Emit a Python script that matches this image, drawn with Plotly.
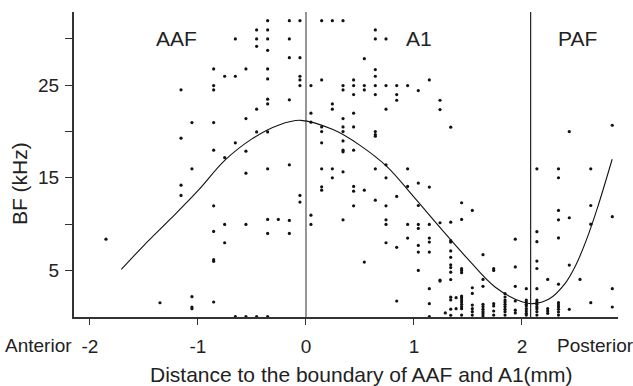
import plotly.graph_objects as go

# Recording sites: x position (mm from the AAF/A1 boundary) of each column and the BF values (kHz) in it
col_x = [-1.852, -1.352, -1.157, -1.056, -0.855, -0.753, -0.654, -0.556, -0.457, -0.355,
         -0.256, -0.154, -0.056, 0.046, 0.145, 0.244, 0.343, 0.441, 0.540, 0.642,
         0.741, 0.840, 0.941, 1.040, 1.142, 1.241, 1.290, 1.340, 1.390, 1.441,
         1.540, 1.639, 1.738, 1.843, 1.938, 2.040, 2.138, 2.238, 2.338, 2.438,
         2.537, 2.637, 2.836]
col_y = [
    [8.37],
    [1.5],
    [24.5, 19.27, 14.2, 13.09],
    [20.96, 15.96, 2.16, 1.04, 0.86],
    [26.75, 24.95, 24.48, 20.96, 17.98, 11.97, 9.2, 6.15, 5.97, 1.58],
    [25.96, 17.18, 9.96, 7.98],
    [29.99, 25.96, 18.77, 0],
    [26.75, 21.39, 17.87, 15.49, 9.96, 0],
    [30.96, 29.99, 29.19, 22.40, 19.95, 0],
    [31.96, 30.96, 29.99, 28.76, 26.75, 25.67, 23.48, 22.97, 19.95, 15.96, 10.50, 8.99, 0],
    [10.50],
    [31.96, 29.99, 27.97, 23.41, 16.39, 10.39, 8.99],
    [31.96, 27.97, 25.96, 25.56, 24.95, 13.09, 12.37],
    [24.95, 21.97, 21.0, 10.96, 9.96],
    [31.96, 25.56, 20.49, 19.99, 18.77, 15.96, 14.02, 13.66],
    [31.96, 22.97, 22.40, 15.96, 14.99],
    [31.96, 24.95, 24.48, 21.39, 20.49, 19.99, 18.98, 17.98, 17.8, 15.64, 10.46],
    [25.56, 24.95, 23.98, 21.97, 20.49, 17.98, 14.06, 13.55, 11.97],
    [27.86, 24.95, 24.48, 13.66, 5.89],
    [30.96, 29.99, 26.68, 25.96, 24.95, 23.98, 19.99, 19.67, 19.49, 15.96, 12.58],
    [29.99, 24.95, 22.40, 16.39, 14.99, 11.97, 10.46, 9.96, 7.98],
    [24.95, 23.98, 23.37, 12.98, 7.48, 1.69],
    [24.95, 15.96, 14.06, 9.96, 8.48],
    [24.41, 14.42, 12.0, 9.96, 9.53, 7.69, 6.97, 4.99],
    [25.56, 13.99, 9.96, 8.48, 8.05, 6.97, 3.02, 1.4, 0],
    [23.37, 22.36, 10.14, 3.95, 3.84],
    [0.4],
    [20.46, 10.2, 8.2, 8.05, 7.1, 6.4, 5.6, 5.3, 4.8, 4.0, 2.1, 1.8, 0.8, 0.15],
    [2.05, 0.86],
    [12.3, 10.5, 5.18, 4.99, 4.75, 2.22, 2.05, 1.79, 1.58, 1.33, 1.08, 0.86, 0.17],
    [11.47, 3.12, 2.51, 1.25, 0.86, 0.54, 0.17],
    [6.69, 4.02, 3.27, 1.33, 1.08, 0.79, 0.54, 0.32, 0.06],
    [5.18, 4.99, 1.40, 1.15, 0.61, 0.17],
    [2.48, 2.12, 1.79, 1.58, 1.33, 1.08, 0.79, 0.54, 0.17],
    [8.37, 5.37, 3.27, 1.69, 0.7, 0.4],
    [3.02, 1.79, 1.58, 1.33, 1.15, 0.86, 0.61, 0.36, 0.17],
    [15.96, 9.17, 8.09, 6.0, 5.2, 3.02, 1.79, 1.58, 1.33, 1.08, 0.86, 0.54, 0.17],
    [4.02, 0.86, 0.61, 0.36],
    [15.96, 15.0, 11.47, 10.46, 8.5, 3.5, 1.51, 1.25, 1.04, 0.79, 0.5, 0.17],
    [19.99, 10.68, 5.57, 0.79],
    [4.02],
    [15.96, 12.0, 9.98, 1.51],
    [20.67, 10.79, 3.02, 1.04],
]

# Fitted BF trend along the axis
fit_x = [-1.71, -1.5, -1.25, -1.0, -0.75, -0.5, -0.25, -0.05, 0.25, 0.5, 0.75, 1.0,
         1.25, 1.5, 1.75, 2.0, 2.1, 2.25, 2.4, 2.5, 2.6, 2.7, 2.835]
fit_y = [5.1, 7.7, 10.6, 13.6, 16.9, 19.2, 20.7, 21.2, 20.2, 18.5, 16.2, 12.9,
         9.5, 6.2, 3.2, 1.6, 1.4, 1.9, 3.6, 5.6, 8.4, 11.8, 17.0]

# Field boundaries and labels
boundary_x = [0.0, 2.08]
field_names = ["AAF", "A1", "PAF"]
field_x = [-1.20, 1.05, 2.515]

x_ticks = [-2, -1, 0, 1, 2]
y_ticks = [5, 10, 15, 20, 25, 30]
y_ticktext = ["5", "", "15", "", "25", ""]

FONT = "Liberation Sans, Arial, sans-serif"
TXT = "#222222"

pts_x, pts_y = [], []
for cx, ys in zip(col_x, col_y):
    for v in ys:
        pts_x.append(cx)
        pts_y.append(v)

fig = go.Figure()

for bx, col, w in zip(boundary_x, ["#8a8a8a", "#222222"], [1.8, 1.2]):
    fig.add_shape(type="line", xref="x", yref="paper", x0=bx, x1=bx, y0=0, y1=1,
                  line=dict(color=col, width=w), layer="below")

fig.add_trace(go.Scatter(x=fit_x, y=fit_y, mode="lines", line_shape="spline",
                         line=dict(color="#111111", width=1.1), hoverinfo="skip"))
fig.add_trace(go.Scatter(x=pts_x, y=pts_y, mode="markers", cliponaxis=False,
                         marker=dict(color="#111111", size=3.2, line=dict(width=0))))

for name, fx in zip(field_names, field_x):
    fig.add_annotation(x=fx, y=30, xref="x", yref="y", text=name, showarrow=False,
                       yanchor="middle", font=dict(family=FONT, size=21, color=TXT))

fig.update_layout(
    width=633, height=386,
    margin=dict(l=74, r=15, t=12, b=69),
    paper_bgcolor="white", plot_bgcolor="white",
    showlegend=False,
    font=dict(family=FONT, size=19, color=TXT),
    xaxis=dict(range=[-2.148, 2.889], showgrid=False, zeroline=False,
               showline=True, linecolor="#333", linewidth=2,
               tickmode="array", tickvals=x_ticks, ticktext=[str(t) for t in x_ticks],
               ticks="outside", ticklen=6, tickwidth=1, tickcolor="#333",
               ticklabelstandoff=5,
               tickfont=dict(family=FONT, size=19, color=TXT)),
    yaxis=dict(range=[-0.04, 32.9], showgrid=False, zeroline=False,
               showline=True, linecolor="#333", linewidth=2,
               tickmode="array", tickvals=y_ticks, ticktext=y_ticktext,
               ticks="outside", ticklen=7, tickwidth=1, tickcolor="#333",
               ticklabelstandoff=2,
               tickfont=dict(family=FONT, size=19, color=TXT)),
)

# Direction labels and axis titles, positioned in paper coordinates
fig.add_annotation(x=0.0, y=-0.092, xref="paper", yref="paper", text="Anterior",
                   showarrow=False, xanchor="right", yanchor="middle",
                   font=dict(family=FONT, size=19, color=TXT))
fig.add_annotation(x=0.884, y=-0.092, xref="paper", yref="paper", text="Posterior",
                   showarrow=False, xanchor="left", yanchor="middle",
                   font=dict(family=FONT, size=19, color=TXT))
fig.add_annotation(x=0.529, y=-0.187, xref="paper", yref="paper",
                   text="Distance to the boundary of AAF and A1(mm)", showarrow=False,
                   xanchor="center", yanchor="middle",
                   font=dict(family=FONT, size=21, color=TXT))
fig.add_annotation(x=-0.101, y=0.436, xref="paper", yref="paper", text="BF (kHz)",
                   showarrow=False, textangle=-90, xanchor="center", yanchor="middle",
                   font=dict(family=FONT, size=21, color=TXT))

fig.write_html("out.html")
